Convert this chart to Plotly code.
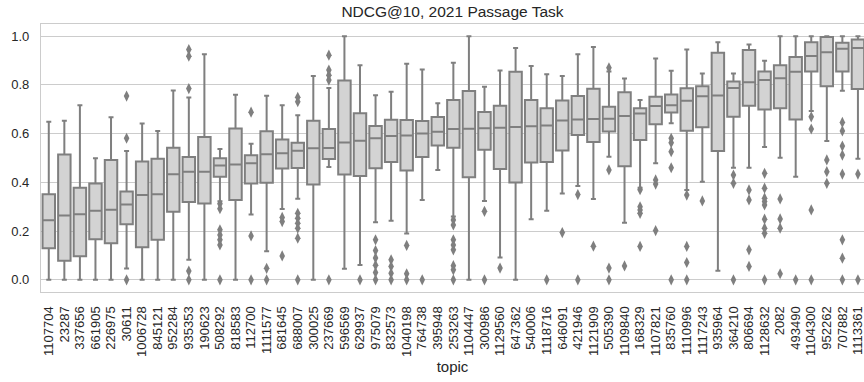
import plotly.graph_objects as go

topics = ["1107704", "23287", "337656", "661905", "226975", "30611", "1006728", "845121",
          "952284", "935353", "190623", "508292", "818583", "112700", "1111577", "681645",
          "688007", "300025", "237669", "596569", "629937", "975079", "832573", "1040198",
          "764738", "395948", "253263", "1104447", "300986", "1129560", "647362", "540006",
          "1118716", "646091", "421946", "1121909", "505390", "1109840", "168329", "1107821",
          "835760", "1110996", "1117243", "935964", "364210", "806694", "1128632", "2082",
          "493490", "1104300", "952262", "707882", "1113361"]

upper = [0.649, 0.653, 0.717, 0.499, 0.667, 0.529, 0.642, 0.611, 0.777, 0.748,
         0.926, 0.537, 0.760, 0.558, 0.755, 0.717, 0.675, 0.837, 0.787, 1.0,
         0.881, 0.758, 0.772, 0.887, 0.863, 0.725, 0.891, 1.0, 0.792, 0.859,
         0.951, 0.878, 0.844, 0.837, 0.926, 0.956, 0.855, 0.826, 0.738, 0.908,
         0.858, 0.945, 0.847, 0.975, 0.847, 0.966, 0.899, 1.0, 1.0, 1.0,
         1.0, 1.0, 1.0]
q3 = [0.351, 0.514, 0.378, 0.395, 0.492, 0.362, 0.486, 0.497, 0.542, 0.504,
      0.586, 0.499, 0.621, 0.511, 0.610, 0.576, 0.563, 0.653, 0.619, 0.818,
      0.684, 0.631, 0.657, 0.656, 0.652, 0.668, 0.738, 0.775, 0.689, 0.714,
      0.854, 0.738, 0.704, 0.736, 0.754, 0.784, 0.710, 0.770, 0.704, 0.751,
      0.761, 0.786, 0.795, 0.932, 0.814, 0.943, 0.855, 0.881, 0.915, 0.975,
      0.997, 0.973, 0.986]
median = [0.245, 0.264, 0.269, 0.283, 0.288, 0.309, 0.348, 0.351, 0.433, 0.444,
          0.444, 0.469, 0.473, 0.478, 0.515, 0.519, 0.530, 0.540, 0.541, 0.564,
          0.571, 0.581, 0.590, 0.592, 0.601, 0.608, 0.619, 0.620, 0.622, 0.624,
          0.627, 0.630, 0.633, 0.654, 0.658, 0.660, 0.661, 0.672, 0.683, 0.713,
          0.717, 0.735, 0.753, 0.757, 0.787, 0.811, 0.820, 0.827, 0.854, 0.919,
          0.934, 0.948, 0.952]
q1 = [0.130, 0.078, 0.097, 0.167, 0.150, 0.228, 0.134, 0.164, 0.279, 0.319,
      0.313, 0.423, 0.328, 0.395, 0.398, 0.457, 0.459, 0.391, 0.496, 0.432,
      0.426, 0.458, 0.484, 0.449, 0.504, 0.551, 0.542, 0.421, 0.534, 0.455,
      0.399, 0.482, 0.484, 0.531, 0.594, 0.566, 0.609, 0.466, 0.574, 0.639,
      0.687, 0.612, 0.626, 0.529, 0.669, 0.714, 0.699, 0.704, 0.658, 0.855,
      0.794, 0.855, 0.783]
lower = [0.0, 0.0, 0.0, 0.0, 0.0, 0.046, 0.0, 0.0, 0.0, 0.082,
         0.0, 0.322, 0.0, 0.268, 0.117, 0.291, 0.333, 0.0, 0.463, 0.045,
         0.061, 0.236, 0.242, 0.190, 0.328, 0.451, 0.26, 0.0, 0.324, 0.092,
         0.0, 0.249, 0.283, 0.354, 0.385, 0.332, 0.505, 0.234, 0.378, 0.478,
         0.643, 0.369, 0.403, 0.037, 0.460, 0.460, 0.545, 0.501, 0.423, 0.693,
         0.570, 0.776, 0.497]
outliers = [
    [], [], [], [], [], [0.754, 0.581, 0.0], [], [], [], [0.945, 0.918, 0.785, 0.036, 0.0],
    [], [0.312, 0.292, 0.205, 0.184, 0.164, 0.143, 0.0], [], [0.688, 0.180, 0.0], [0.047, 0.0],
    [0.256, 0.239, 0.098], [0.749, 0.731, 0.273, 0.253, 0.232, 0.212, 0.171, 0.0], [],
    [0.922, 0.861, 0.840, 0.820, 0.0], [],
    [0.0], [0.164, 0.12, 0.09, 0.06, 0.03, 0.0], [0.082, 0.055, 0.027, 0.0], [0.141, 0.025, 0.0],
    [0.0], [], [0.246, 0.225, 0.164, 0.143, 0.123, 0.058, 0.041, 0.0], [], [0.281, 0.0], [0.048],
    [], [], [0.0], [0.194], [0.350, 0.0], [0.138], [0.870, 0.451, 0.048, 0.0], [0.057],
    [0.37, 0.30, 0.287, 0.273, 0.137], [0.410, 0.393, 0.202],
    [0.581, 0.563, 0.526, 0.460, 0.0], [0.348, 0.137, 0.071, 0.0], [0.324], [],
    [0.430, 0.396, 0.0], [0.369, 0.328, 0.123, 0.055],
    [0.437, 0.376, 0.335, 0.321, 0.307, 0.249, 0.212, 0.191, 0.0],
    [0.332, 0.250, 0.212, 0.025], [0.0], [0.669, 0.619, 0.287, 0.0],
    [0.492, 0.444, 0.396], [0.646, 0.611, 0.549, 0.512, 0.434, 0.164, 0.089, 0.0],
    [0.434, 0.0],
]
yticks = [0.0, 0.2, 0.4, 0.6, 0.8, 1.0]

EDGE = "#7f7f7f"
FILL = "#d3d3d3"
TEXT = "#262626"
GRID = "#cccccc"
FONT = "Arial, Liberation Sans, DejaVu Sans, sans-serif"

ox, oy = [], []
for t, vals in zip(topics, outliers):
    for v in vals:
        ox.append(t)
        oy.append(v)

fig = go.Figure()
fig.add_trace(go.Box(
    x=topics, q1=q1, median=median, q3=q3,
    lowerfence=lower, upperfence=upper,
    fillcolor=FILL, line=dict(color=EDGE, width=2),
    width=0.8, whiskerwidth=0.4, boxpoints=False,
    showlegend=False, hoverinfo="skip",
))
fig.add_trace(go.Scatter(
    x=ox, y=oy, mode="markers",
    marker=dict(symbol="diamond-tall", size=8, color=EDGE, line=dict(width=0)),
    showlegend=False, hoverinfo="skip",
))

fig.update_layout(
    width=864, height=382,
    margin=dict(l=41, r=0, t=24, b=90),
    paper_bgcolor="white", plot_bgcolor="white",
    font=dict(family=FONT, size=13, color=TEXT),
    title=dict(text="NDCG@10, 2021 Passage Task", x=0.5, xref="paper",
               y=1 - 12 / 382, yref="container", yanchor="middle", xanchor="center",
               font=dict(family=FONT, size=15.5, color=TEXT)),
)
fig.update_xaxes(
    type="category", categoryorder="array", categoryarray=topics,
    tickmode="array", tickvals=topics, ticktext=topics,
    range=[-0.5, 52.39], tickangle=-90, showgrid=False,
    showline=True, mirror=True, linecolor=GRID, linewidth=1.2,
    ticks="", ticklabelstandoff=8, zeroline=False,
    title=dict(text="topic", standoff=5, font=dict(family=FONT, size=15, color=TEXT)),
    tickfont=dict(family=FONT, size=13, color=TEXT),
)
fig.update_yaxes(
    range=[-0.05, 1.05], tickvals=yticks, ticktext=[f"{v:.1f}" for v in yticks],
    showgrid=True, gridcolor=GRID, gridwidth=1, zeroline=False,
    showline=True, mirror=False, linecolor=GRID, linewidth=1.2,
    ticks="", ticklabelstandoff=8,
    tickfont=dict(family=FONT, size=13, color=TEXT),
)

fig.write_html("out.html")
